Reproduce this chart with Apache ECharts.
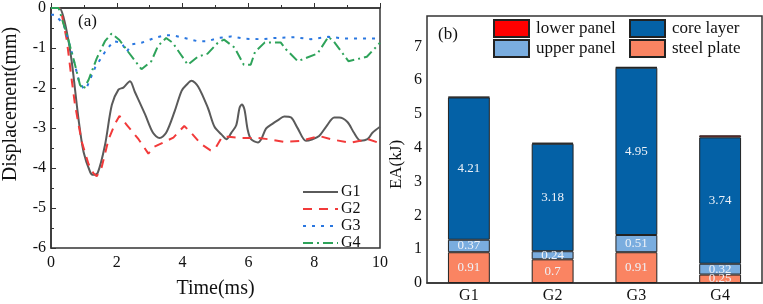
<!DOCTYPE html>
<html>
<head>
<meta charset="utf-8">
<script src="https://cdn.jsdelivr.net/npm/echarts@6/dist/echarts.min.js"></script>
<style>
  html, body { margin: 0; padding: 0; background: #fff; }
  #chart { width: 763px; height: 304px; }
</style>
</head>
<body>
<div id="chart"></div>
<script>
// (a) displacement curves, [time(ms), displacement(mm)]
const g1Points = [[0,0],[0.25,0],[0.39,-0.26],[0.54,-0.86],[0.64,-1.4],[0.84,-2.8],[0.99,-3.6],[1.19,-4.1],[1.28,-4.17],[1.42,-4.12],[1.64,-3.43],[1.85,-2.42],[2.05,-2.04],[2.2,-1.99],[2.4,-1.83],[2.55,-2.1],[2.86,-2.66],[3.1,-3.12],[3.3,-3.25],[3.5,-3.12],[3.76,-2.58],[3.97,-2.07],[4.12,-1.92],[4.27,-1.82],[4.47,-1.96],[4.77,-2.5],[4.97,-2.97],[5.18,-3.16],[5.33,-3.28],[5.48,-3.12],[5.63,-2.93],[5.73,-2.5],[5.8,-2.41],[5.88,-2.54],[5.98,-3.05],[6.08,-3.28],[6.29,-3.36],[6.39,-3.28],[6.54,-3.01],[6.74,-2.89],[6.89,-2.81],[7.09,-2.71],[7.3,-2.74],[7.5,-3.01],[7.75,-3.32],[7.95,-3.28],[8.15,-3.2],[8.36,-2.97],[8.61,-2.74],[8.76,-2.74],[9.01,-2.85],[9.21,-3.12],[9.41,-3.32],[9.62,-3.28],[9.77,-3.12],[10,-2.97]]
const g2Points = [[0,0],[0.25,0],[0.33,-0.17],[0.48,-0.8],[0.63,-1.8],[0.73,-2.42],[0.85,-2.97],[0.94,-3.36],[1.14,-3.9],[1.29,-4.13],[1.39,-4.21],[1.54,-3.98],[1.75,-3.28],[1.95,-2.89],[2.08,-2.7],[2.3,-2.92],[2.66,-3.28],[2.96,-3.64],[3.14,-3.47],[3.72,-3.24],[4.05,-2.95],[4.26,-3.12],[4.56,-3.4],[4.85,-3.56],[5.0,-3.5],[5.2,-3.22],[5.4,-3.22],[5.8,-3.25],[6.3,-3.25],[6.6,-3.28],[7.1,-3.35],[7.6,-3.32],[8.15,-3.2],[8.5,-3.28],[9.1,-3.37],[9.4,-3.32],[9.6,-3.27],[10,-3.38]]
const g3Points = [[0,-0.17],[0.12,-0.17],[0.38,-0.4],[0.63,-1.1],[0.84,-1.8],[1.0,-2.03],[1.08,-2.0],[1.34,-1.49],[1.64,-1.1],[1.9,-0.83],[2.15,-0.87],[2.3,-1.1],[2.45,-0.91],[2.75,-0.87],[3.15,-0.75],[3.45,-0.68],[3.7,-0.68],[4.05,-0.75],[4.46,-0.83],[4.76,-0.83],[5.07,-0.75],[5.47,-0.71],[5.9,-0.77],[6.4,-0.78],[6.8,-0.75],[7.4,-0.73],[7.9,-0.78],[8.43,-0.72],[8.9,-0.76],[10,-0.76]]
const g4Points = [[0,0],[0.23,0],[0.33,-0.26],[0.53,-0.8],[0.73,-1.42],[0.88,-1.92],[0.99,-2.03],[1.14,-1.8],[1.39,-1.26],[1.64,-0.83],[1.84,-0.64],[2.08,-0.8],[2.35,-1.1],[2.75,-1.53],[3.05,-1.33],[3.25,-0.95],[3.5,-0.75],[3.7,-0.87],[3.96,-1.18],[4.16,-1.42],[4.46,-1.22],[4.76,-1.14],[5.07,-0.87],[5.26,-0.79],[5.58,-0.99],[5.86,-1.42],[6.07,-1.42],[6.2,-1.1],[6.5,-0.86],[6.98,-0.86],[7.14,-1.03],[7.5,-1.33],[8.1,-1.14],[8.43,-0.72],[8.59,-0.83],[9.04,-1.33],[9.6,-1.22],[10,-0.87]]

// (b) energy absorption, kJ
const groups = ['G1', 'G2', 'G3', 'G4']
const steelPlate = [0.91, 0.7, 0.91, 0.25]
const upperPanel = [0.37, 0.24, 0.51, 0.32]
const coreLayer = [4.21, 3.18, 4.95, 3.74]
const lowerPanel = [0.02, 0.03, 0.02, 0.06]

const FONT = "'Liberation Serif', 'Times New Roman', serif"
const AXIS = '#333'

const chart = echarts.init(document.getElementById('chart'))

function lineSeries(name, data, color, type, smooth) {
  return {
    name: name,
    type: 'line',
    xAxisIndex: 0,
    yAxisIndex: 0,
    data: data,
    symbol: 'none',
    smooth: smooth,
    animation: false,
    lineStyle: { color: color, width: 2, type: type },
    itemStyle: { color: color }
  }
}

function barSeries(name, data, color, showLabel) {
  return {
    name: name,
    type: 'bar',
    stack: 'ea',
    xAxisIndex: 1,
    yAxisIndex: 1,
    barWidth: '50%',
    data: data,
    animation: false,
    itemStyle: { color: color, borderColor: '#222', borderWidth: 1 },
    label: {
      show: showLabel,
      position: 'inside',
      color: '#eef2f8',
      fontFamily: FONT,
      fontSize: 13
    }
  }
}

function barLegend(name, left, top) {
  return {
    data: [name],
    left: left,
    top: top,
    padding: 0,
    itemWidth: 35,
    itemHeight: 17,
    itemGap: 0,
    icon: 'rect',
    textStyle: { fontFamily: FONT, fontSize: 17, color: '#111', padding: [0, 0, 0, 2] }
  }
}

const option = {
  backgroundColor: '#fff',
  textStyle: { fontFamily: FONT },
  grid: [
    { left: 49, top: 6, width: 331, height: 257, show: true, borderColor: AXIS, borderWidth: 1.5, backgroundColor: 'transparent' },
    { left: 427, top: 16, width: 335, height: 268, show: true, borderColor: AXIS, borderWidth: 1.5, backgroundColor: 'transparent' }
  ],
  graphic: [
    { type: 'text', left: 78, top: 13, style: { text: '(a)', font: '17px ' + FONT, fill: '#111' } },
    { type: 'text', left: 438, top: 26, style: { text: '(b)', font: '17px ' + FONT, fill: '#111' } }
  ],
  legend: [
    {
      data: ['G1', 'G2', 'G3', 'G4'],
      orient: 'vertical',
      left: 302,
      top: 184,
      padding: 0,
      itemWidth: 35,
      itemHeight: 14,
      itemGap: 1,
      itemStyle: { opacity: 0 },
      textStyle: { fontFamily: FONT, fontSize: 16, color: '#111', padding: [0, 0, 0, -2] }
    },
    barLegend('lower panel', 493, 19),
    barLegend('core layer', 629, 19),
    barLegend('upper panel', 493, 39),
    barLegend('steel plate', 629, 39)
  ],
  xAxis: [
    {
      type: 'value',
      gridIndex: 0,
      min: 0,
      max: 10,
      interval: 2,
      name: 'Time(ms)',
      nameLocation: 'middle',
      nameGap: 31,
      nameTextStyle: { fontFamily: FONT, fontSize: 20, color: '#111' },
      axisLine: { lineStyle: { color: AXIS, width: 1.5 } },
      axisTick: { inside: true, length: 5, lineStyle: { color: AXIS } },
      minorTick: { show: true, splitNumber: 2, length: 3, lineStyle: { color: AXIS } },
      splitLine: { show: false },
      axisLabel: { fontFamily: FONT, fontSize: 16, color: '#111', margin: 7 }
    },
    {
      type: 'category',
      gridIndex: 1,
      data: groups,
      axisLine: { lineStyle: { color: AXIS, width: 1.5 } },
      axisTick: { show: false },
      axisLabel: { fontFamily: FONT, fontSize: 16, color: '#111', margin: 5 }
    }
  ],
  yAxis: [
    {
      type: 'value',
      gridIndex: 0,
      min: -6,
      max: 0,
      interval: 1,
      name: 'Displacement(mm)',
      nameLocation: 'middle',
      nameGap: 30,
      nameTextStyle: { fontFamily: FONT, fontSize: 20, color: '#111', padding: [0, 0, 0, 48] },
      axisLine: { lineStyle: { color: AXIS, width: 1.5 } },
      axisTick: { inside: true, length: 5, lineStyle: { color: AXIS } },
      minorTick: { show: true, splitNumber: 2, length: 3, lineStyle: { color: AXIS } },
      splitLine: { show: false },
      axisLabel: { fontFamily: FONT, fontSize: 16, color: '#111', margin: 5 }
    },
    {
      type: 'value',
      gridIndex: 1,
      min: 0,
      max: 7.9,
      interval: 1,
      name: 'EA(kJ)',
      nameLocation: 'middle',
      nameGap: 22,
      nameTextStyle: { fontFamily: FONT, fontSize: 17, color: '#111', padding: [0, 30, 0, 0] },
      axisLine: { lineStyle: { color: AXIS, width: 1.5 } },
      axisTick: { inside: true, length: 5, lineStyle: { color: AXIS } },
      splitLine: { show: false },
      axisLabel: {
        fontFamily: FONT, fontSize: 16, color: '#111', margin: 5,
        formatter: function (v) { return Number.isInteger(v) ? String(v) : '' }
      }
    }
  ],
  series: [
    lineSeries('G1', g1Points, '#5a5a5a', 'solid', 0.3),
    lineSeries('G2', g2Points, '#f23a3a', [9, 7], false),
    lineSeries('G3', g3Points, '#2a77e0', [3, 6], false),
    lineSeries('G4', g4Points, '#2ea35a', [10, 4, 2, 4], false),
    barSeries('steel plate', steelPlate, '#fa8462', true),
    barSeries('upper panel', upperPanel, '#7aaddf', true),
    barSeries('core layer', coreLayer, '#0461a6', true),
    barSeries('lower panel', lowerPanel, '#ff0000', false)
  ]
}

chart.setOption(option)
</script>
</body>
</html>
